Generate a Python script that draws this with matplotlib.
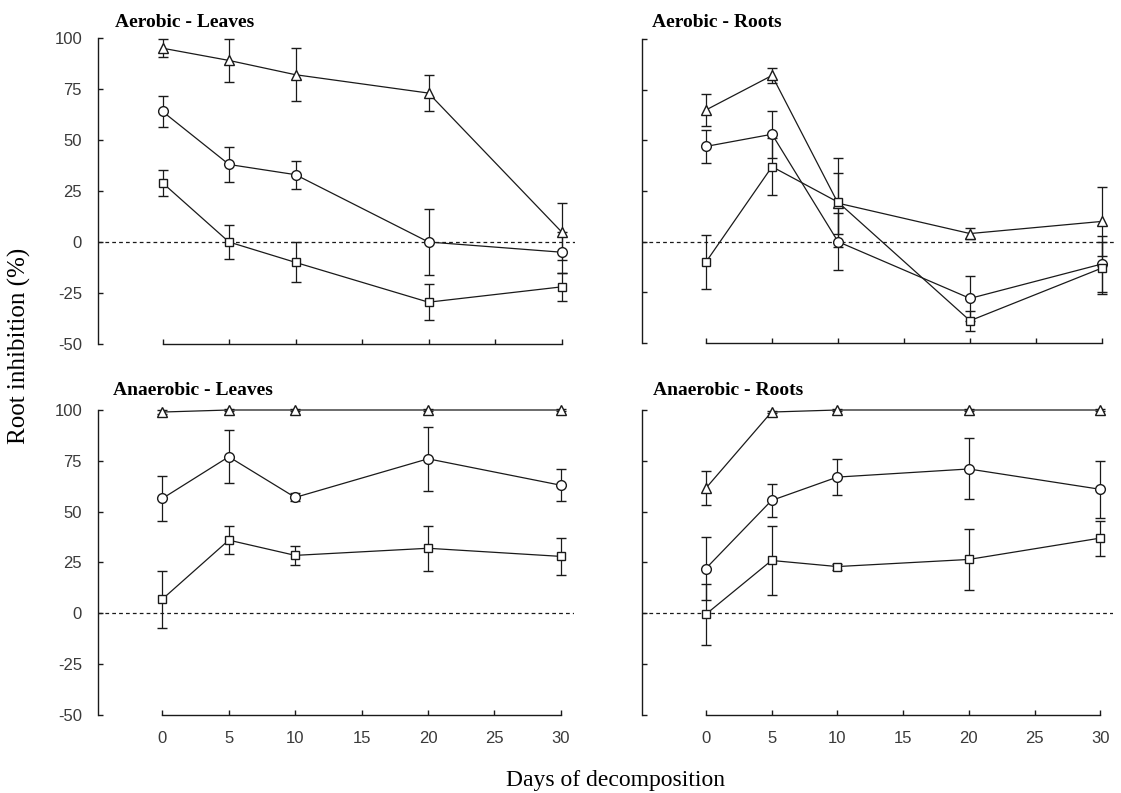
import numpy as np
import matplotlib
matplotlib.use("Agg")
import matplotlib.pyplot as plt

plt.rcParams["axes.unicode_minus"] = False

# ---------------------------------------------------------
# Data
# ---------------------------------------------------------
days = [0, 5, 10, 20, 30]

# Aerobic - Leaves
al_tri = [95, 89, 82, 73, 5]
al_tri_err = [4.5, 10.5, 13, 9, 14]
al_circ = [64, 38, 33, 0, -5]
al_circ_err = [7.7, 8.7, 6.8, 16.3, 10]
al_sq = [29, 0, -10, -29.5, -22]
al_sq_err = [6.5, 8.2, 9.8, 8.7, 6.7]

# Aerobic - Roots
ar_tri = [65, 82, 19, 4, 10]
ar_tri_err = [7.8, 3.5, 15, 2.5, 17]
ar_circ = [47, 53, 0, -28, -11]
ar_circ_err = [8.3, 11.7, 14, 11, 14]
ar_sq = [-10, 37, 19.5, -39, -13]
ar_sq_err = [13.3, 14, 22, 5, 13]

# Anaerobic - Leaves
nl_tri = [99, 100, 100, 100, 100]
nl_tri_err = [0.8, 0.5, 0.5, 0.5, 0.5]
nl_circ = [56.5, 77, 57, 76, 63]
nl_circ_err = [11, 13, 2, 15.7, 7.8]
nl_sq = [7, 36, 28.5, 32, 28]
nl_sq_err = [14, 7, 4.5, 11, 9]

# Anaerobic - Roots
nr_tri = [61.5, 99, 100, 100, 100]
nr_tri_err = [8.3, 0.5, 0.5, 0.5, 0.5]
nr_circ = [22, 55.5, 67, 71, 61]
nr_circ_err = [15.5, 8, 8.7, 15, 14]
nr_sq = [-0.5, 26, 23, 26.5, 37]
nr_sq_err = [15, 17, 1.5, 15, 8.6]

y_ticks = [-50, -25, 0, 25, 50, 75, 100]
x_ticks = [0, 5, 10, 15, 20, 25, 30]

panels = [
    ("Aerobic - Leaves", (al_tri, al_tri_err), (al_circ, al_circ_err), (al_sq, al_sq_err)),
    ("Aerobic - Roots", (ar_tri, ar_tri_err), (ar_circ, ar_circ_err), (ar_sq, ar_sq_err)),
    ("Anaerobic - Leaves", (nl_tri, nl_tri_err), (nl_circ, nl_circ_err), (nl_sq, nl_sq_err)),
    ("Anaerobic - Roots", (nr_tri, nr_tri_err), (nr_circ, nr_circ_err), (nr_sq, nr_sq_err)),
]

# ---------------------------------------------------------
# Layout (pixel positions in a 1121x793 canvas)
# ---------------------------------------------------------
W, H = 1121, 793
XLIM = (-4.85, 31.0)
# (left spine px, top px of y=100, bottom px of y=-50, px per day)
boxes = [
    (98, 38, 344, 13.3),
    (642, 39, 343, 13.2),
    (98, 410, 715, 13.28),
    (642, 410, 715, 13.15),
]
title_pos = [(115, 27), (652, 27), (113, 395), (653, 395)]

SERIF = ["Liberation Serif", "DejaVu Serif"]
SANS = ["Liberation Sans", "DejaVu Sans"]
INK = "#1a1a1a"

fig = plt.figure(figsize=(W / 100, H / 100), dpi=100)

for i, (title, tri, circ, sq) in enumerate(panels):
    left, top, bot, ppd = boxes[i]
    width = (XLIM[1] - XLIM[0]) * ppd
    ax = fig.add_axes([left / W, 1 - bot / H, width / W, (bot - top) / H])

    ax.axhline(0, color=INK, lw=0.9, ls=(0, (3, 2.5)), zorder=1)

    styles = [(tri, "^", 6.5), (circ, "o", 7), (sq, "s", 6)]
    for (vals, errs), marker, ms in styles:
        ax.errorbar(days, vals, yerr=errs, color=INK, lw=0.9,
                    elinewidth=0.9, capsize=3.5, capthick=0.9,
                    marker=marker, ms=ms, mfc="white", mec=INK, mew=1.0,
                    clip_on=False, zorder=3)

    ax.set_xlim(*XLIM)
    ax.set_ylim(-50, 100)
    ax.set_xticks(x_ticks)
    ax.set_yticks(y_ticks)
    for side in ("top", "right"):
        ax.spines[side].set_visible(False)
    ax.spines["left"].set_bounds(-50, 100)
    ax.spines["bottom"].set_bounds(0, 30)
    for side in ("left", "bottom"):
        ax.spines[side].set_linewidth(1.0)
        ax.spines[side].set_color(INK)
    ax.tick_params(direction="in", length=3.8, width=1.0, color=INK,
                   labelsize=12, labelcolor="#3a3a3a", pad=11.5)
    for lab in ax.get_xticklabels() + ax.get_yticklabels():
        lab.set_family(SANS)
    if i % 2 == 1:
        ax.set_yticklabels([])
    if i < 2:
        ax.set_xticklabels([])
    ax.patch.set_alpha(0)

    tx, ty = title_pos[i]
    fig.text(tx / W, 1 - ty / H, title, family=SERIF, fontweight="bold",
             fontsize=14, color="black", ha="left", va="baseline")

fig.text(615 / W, 1 - 786 / H, "Days of decomposition", family=SERIF,
         fontsize=17, color="black", ha="center", va="baseline")
fig.text(19 / W, 1 - 346 / H, "Root inhibition (%)", family=SERIF,
         fontsize=18, color="black", ha="center", va="center", rotation=90)

fig.savefig("out.png", dpi=100, facecolor="white")
